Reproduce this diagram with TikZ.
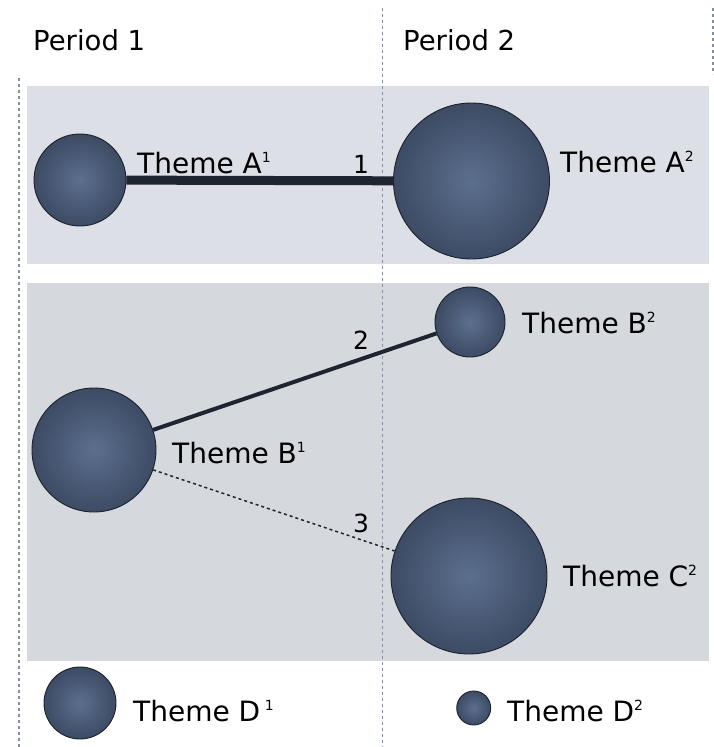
\documentclass[tikz,border=0pt]{standalone}
\usepackage{fontspec}
\setmainfont{DejaVu Sans}
\definecolor{bandA}{HTML}{DCDFE6}
\definecolor{bandB}{HTML}{D5D8DC}
\definecolor{ballin}{HTML}{5B6F8E}
\definecolor{ballout}{HTML}{3D4B64}
\definecolor{ballline}{HTML}{1C222C}
\definecolor{guide}{HTML}{858EA0}
\definecolor{linkc}{HTML}{1F2530}
\newcommand\supnum[1]{\raisebox{0.37em}{\fontsize{14}{14}\selectfont #1}}
\tikzset{
  ball/.style={circle, draw=ballline, line width=0.9pt, inner sep=0pt,
    minimum size=#1, shading=radial, inner color=ballin, outer color=ballout},
  themetext/.style={anchor=base west, inner sep=0pt, text=black,
    font=\fontsize{28}{30}\selectfont},
  periodtext/.style={anchor=base west, inner sep=0pt, text=black,
    font=\fontsize{27.5}{30}\selectfont},
  numtext/.style={anchor=base west, inner sep=0pt, text=black,
    font=\fontsize{25}{27}\selectfont},
  guideline/.style={draw=guide, line width=1.8pt, dash pattern=on 2.5pt off 3.5pt},
}
\begin{document}
\begin{tikzpicture}[x=1pt,y=-1pt]
\useasboundingbox[fill=white] (0,0) rectangle (714,747);
% bands
\fill[bandA] (27,86) rectangle (708.5,264);
\fill[bandB] (27,282.5) rectangle (708.5,660.5);
% guide lines
\coordinate (gl1) at (19,78);
\coordinate (gl2) at (19,747);
\coordinate (gm1) at (382.5,8);
\coordinate (gm2) at (382.5,747);
\coordinate (gr1) at (713,8);
\coordinate (gr2) at (713,74);
\draw[guideline] (gl1) -- (gl2);
\draw[guideline] (gm1) -- (gm2);
\draw[guideline] (gr1) -- (gr2);
% headings
\node[periodtext] (p1) at (33,50) {Period 1};
\node[periodtext] (p2) at (403,50) {Period 2};
% circles
\node[ball=92pt] (A1) at (80,180) {};
\node[ball=156pt] (A2) at (471.5,181) {};
\node[ball=124pt] (B1) at (94,450) {};
\node[ball=70pt] (B2) at (470,322) {};
\node[ball=156pt] (C2) at (469,576) {};
\node[ball=72pt] (D1) at (80,703) {};
\node[ball=34pt] (D2) at (473.7,708) {};
% connectors
\draw[linkc, line width=9pt] (A1) -- (A2);
\draw[linkc, line width=4pt] (B1) -- (B2);
\draw[linkc, line width=1.5pt, dash pattern=on 3pt off 3pt] (B1) -- (C2);
% connector labels
\node[numtext] (n1) at (353,173) {1};
\node[numtext] (n2) at (353,349) {2};
\node[numtext] (n3) at (353,532) {3};
% theme labels
\node[themetext] (tA1) at (137,173) {Theme A\supnum{1}};
\node[themetext] (tA2) at (560,172) {Theme A\supnum{2}};
\node[themetext] (tB1) at (172,463) {Theme B\supnum{1}};
\node[themetext] (tB2) at (522,333) {Theme B\supnum{2}};
\node[themetext] (tC2) at (563,586) {Theme C\supnum{2}};
\node[themetext] (tD1) at (133,721) {Theme D\,\supnum{1}};
\node[themetext] (tD2) at (507,721) {Theme D\supnum{2}};
\end{tikzpicture}
\end{document}
